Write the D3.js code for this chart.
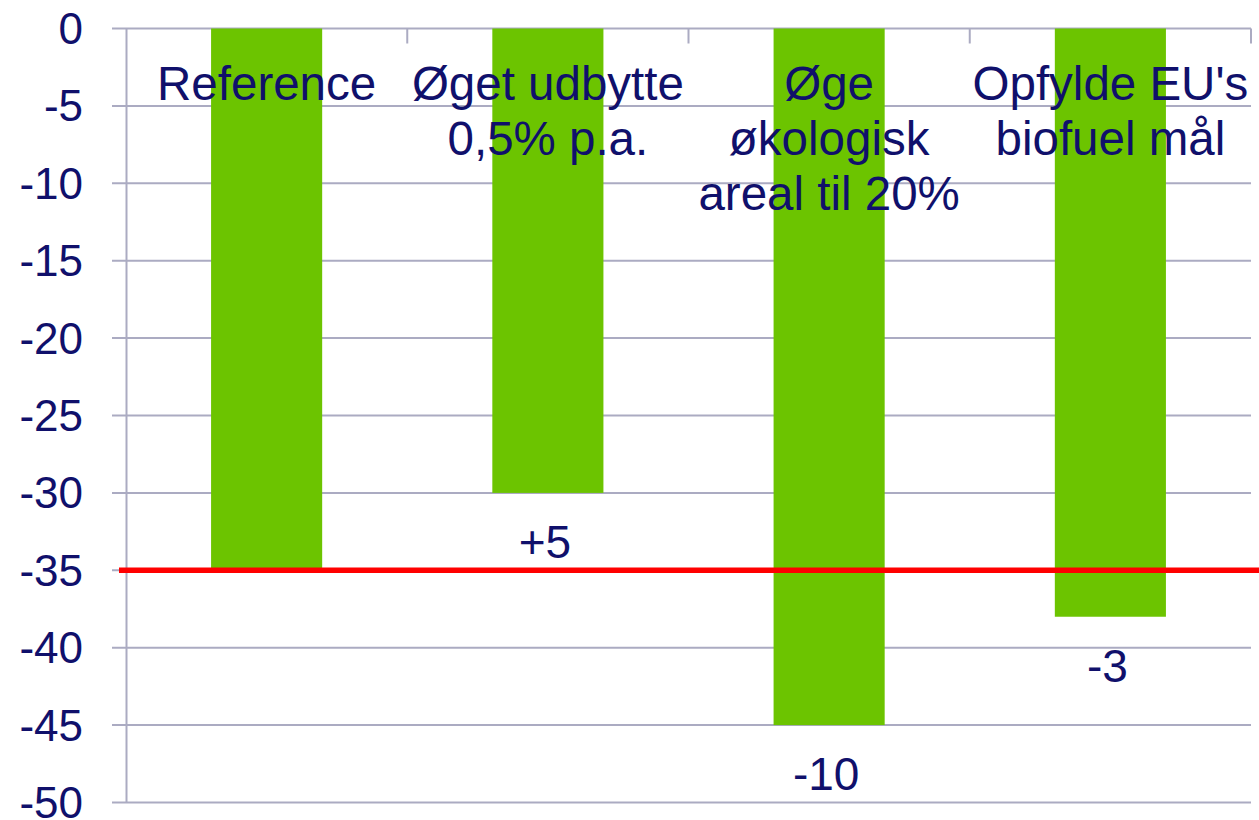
<!DOCTYPE html>
<html>
<head>
<meta charset="utf-8">
<script src="https://cdn.jsdelivr.net/npm/d3@7"></script>
<style>
  html, body { margin: 0; padding: 0; background: #fff; }
  svg { display: block; }
</style>
</head>
<body>
<svg id="chart" width="1259" height="820"></svg>
<script>
// scenarier og værdier
const categories = ['Reference', 'Øget udbytte 0,5% p.a.', 'Øge økologisk areal til 20%', 'Opfylde EU\'s biofuel mål'];
const labelLines = [['Reference'], ['Øget udbytte', '0,5% p.a.'], ['Øge', 'økologisk', 'areal til 20%'], ['Opfylde EU\'s', 'biofuel mål']];
const values = [-35, -30, -45, -38];
const diffLabels = ['', '+5', '-10', '-3'];
const referenceLevel = -35;
const yTicks = [0, -5, -10, -15, -20, -25, -30, -35, -40, -45, -50];

const navy = '#10106b';
const gridColor = '#ababc2';
const svg = d3.select('#chart');

// skalaer: 0 øverst, -50 nederst
const x = d3.scaleBand().domain(categories).range([126, 1251]);
const barX = d3.scaleBand().domain(categories).range([126, 1251]).paddingInner(0.605).paddingOuter(0.3025);
const y = d3.scaleLinear().domain([0, -50]).range([28.5, 802.5]);

// gitterlinjer
svg.append('g')
    .selectAll('line')
    .data(yTicks)
    .join('line')
    .attr('x1', 112).attr('x2', 1251)
    .attr('y1', d => y(d)).attr('y2', d => y(d))
    .attr('stroke', gridColor).attr('stroke-width', 2);

// y-akse
const yAxis = svg.append('g').attr('transform', 'translate(126,0)')
    .call(d3.axisLeft(y).tickValues(yTicks).tickSize(0).tickPadding(43).tickFormat(d => d));
yAxis.select('.domain').attr('stroke', gridColor).attr('stroke-width', 2);
yAxis.selectAll('text')
    .attr('dy', '0.34em')
    .attr('fill', navy)
    .attr('font-family', 'Liberation Sans, Arial, sans-serif')
    .attr('font-size', 44);

// kategori-tick ved toppen
const bounds = categories.map(c => x(c) + x.bandwidth());
svg.append('g')
    .selectAll('line')
    .data(bounds)
    .join('line')
    .attr('x1', d => d).attr('x2', d => d)
    .attr('y1', y(0)).attr('y2', y(0) + 15)
    .attr('stroke', gridColor).attr('stroke-width', 2);

// søjler
svg.append('g')
    .selectAll('rect')
    .data(values)
    .join('rect')
    .attr('x', (d, i) => barX(categories[i]))
    .attr('width', barX.bandwidth())
    .attr('y', y(0))
    .attr('height', d => y(d) - y(0))
    .attr('fill', '#6cc400');

// kategoritekster
const lbl = svg.append('g')
    .attr('fill', navy)
    .attr('font-family', 'Liberation Sans, Arial, sans-serif')
    .attr('font-size', 47.5)
    .attr('text-anchor', 'middle');
labelLines.forEach((lines, i) => {
    lines.forEach((t, j) => {
        lbl.append('text')
            .attr('x', x(categories[i]) + x.bandwidth() / 2)
            .attr('y', 100 + j * 55)
            .text(t);
    });
});

// referencelinje
svg.append('line')
    .attr('x1', 119).attr('x2', 1259)
    .attr('y1', y(referenceLevel)).attr('y2', y(referenceLevel))
    .attr('stroke', '#ff0000').attr('stroke-width', 5.5);

// forskelle
svg.append('g')
    .selectAll('text')
    .data(values)
    .join('text')
    .attr('x', (d, i) => x(categories[i]) + x.bandwidth() / 2 - 3)
    .attr('y', d => y(d) + 65)
    .attr('text-anchor', 'middle')
    .attr('fill', navy)
    .attr('font-family', 'Liberation Sans, Arial, sans-serif')
    .attr('font-size', 46)
    .text((d, i) => diffLabels[i]);
</script>
</body>
</html>
